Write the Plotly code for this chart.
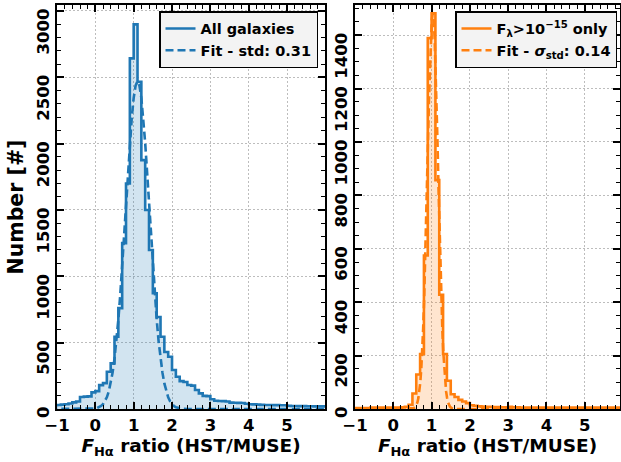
import plotly.graph_objects as go

# ---------------- data ----------------
BIN_W = 0.1
bin_left = [round(-1.2 + 0.1 * i, 1) for i in range(74)]

all_counts = [
    28, 28, 30, 33, 36, 42, 50, 56, 90, 93, 95, 125,          # -1.2 .. -0.1
    135, 180, 195, 281, 344, 545, 760, 1250, 1700, 2643,      # 0.0 .. 0.9
    2899, 2466, 1876, 1500, 1198, 872, 693, 545, 430, 394,    # 1.0 .. 1.9
    294, 243, 210, 203, 181, 176, 143, 118, 99, 97,           # 2.0 .. 2.9
    73, 62, 60, 59, 57, 48, 47, 46, 45, 40,                   # 3.0 .. 3.9
    36, 35, 33, 31, 30, 30, 29, 29, 28, 28,                   # 4.0 .. 4.9
    24, 23, 23, 22, 22, 21, 21, 20, 20, 20,                   # 5.0 .. 5.9
    19, 19,                                                   # 6.0 .. 6.1
]

bright_counts = [
    4, 4, 4, 4, 4, 4, 5, 5, 5, 5, 5, 5,                       # -1.2 .. -0.1
    5, 5, 6, 8, 16, 58, 129, 206, 575, 1389,                  # 0.0 .. 0.9
    1482, 857, 428, 206, 106, 55, 45, 34, 28, 22,             # 1.0 .. 1.9
    14, 12, 10, 9, 8, 8, 7, 7, 6, 6,                          # 2.0 .. 2.9
    8, 6, 6, 5, 5, 5, 5, 5, 5, 5,                             # 3.0 .. 3.9
    5, 5, 5, 5, 5, 5, 5, 5, 5, 5,                             # 4.0 .. 4.9
    5, 5, 5, 5, 5, 5, 5, 5, 5, 5,                             # 5.0 .. 5.9
    5, 5,                                                     # 6.0 .. 6.1
]

fit_all_x = [-1.2, -0.2, -0.15, -0.1, -0.05, 0.0, 0.05, 0.1, 0.15, 0.2, 0.25, 0.3,
             0.35, 0.4, 0.45, 0.5, 0.55, 0.6, 0.65, 0.7, 0.75, 0.8, 0.85, 0.9,
             0.95, 1.0, 1.05, 1.1, 1.15, 1.2, 1.25, 1.3, 1.35, 1.4, 1.45, 1.5,
             1.55, 1.6, 1.65, 1.7, 1.75, 1.8, 1.85, 1.9, 1.95, 2.0, 2.05, 2.1,
             2.15, 2.2, 2.25, 2.3, 2.35, 2.4, 6.2]
fit_all_y = [0, 0.4, 0.8, 1.4, 2.5, 4.5, 8, 13.6, 22.6, 36.6, 57.6, 88,
             132, 193, 274, 380, 512, 673, 861, 1074, 1306, 1546, 1784, 2006,
             2197, 2345, 2438, 2470, 2438, 2345, 2197, 2006, 1784, 1546, 1306, 1074,
             861, 673, 512, 380, 274, 193, 132, 88, 57.6, 36.6, 22.6, 13.6,
             8, 4.5, 2.5, 1.4, 0.8, 0.4, 0]

fit_bright_x = [-1.2, 0.43, 0.48, 0.53, 0.58, 0.63, 0.655, 0.68, 0.705, 0.73, 0.755,
                0.78, 0.805, 0.83, 0.855, 0.88, 0.905, 0.93, 0.955, 0.98, 1.005,
                1.03, 1.055, 1.08, 1.105, 1.13, 1.155, 1.18, 1.205, 1.23, 1.255,
                1.28, 1.305, 1.33, 1.355, 1.38, 1.405, 1.43, 1.48, 1.53, 1.58,
                1.63, 6.2]
fit_bright_y = [0, 0.15, 0.7, 2.5, 8.4, 25, 41, 65, 100, 149, 215,
                301, 407, 533, 678, 834, 994, 1147, 1282, 1389, 1457,
                1480, 1457, 1389, 1282, 1147, 994, 834, 678, 533, 407,
                301, 215, 149, 100, 65, 41, 25, 8.4, 2.5, 0.7,
                0.15, 0]

left_yticks = [0, 500, 1000, 1500, 2000, 2500, 3000]
right_yticks = [0, 200, 400, 600, 800, 1000, 1200, 1400]
xticks = [-1, 0, 1, 2, 3, 4, 5]

BLUE = "#1f77b4"
ORANGE = "#ff7f0e"
BLUE_FILL = "rgba(31,119,180,0.2)"
ORANGE_FILL = "rgba(255,127,14,0.2)"

# ---------------- helpers ----------------
def step_xy(counts):
    xs = bin_left + [round(bin_left[-1] + BIN_W, 1)]
    ys = counts + [counts[-1]]
    return xs, ys

def pad_label(v):
    # all rotated labels padded (invisibly, in front) to 4 digits so that,
    # with a uniform shift, each visible number ends at its tick
    s = str(v)
    pad = "0" * (4 - len(s))
    if pad:
        return "<span style='color:rgba(0,0,0,0)'>" + pad + "</span>" + s
    return s

fig = go.Figure()

panels = [
    ("x", "y", all_counts, fit_all_x, fit_all_y, BLUE, BLUE_FILL,
     "All galaxies", "Fit - std: 0.31", "legend"),
    ("x2", "y2", bright_counts, fit_bright_x, fit_bright_y, ORANGE, ORANGE_FILL,
     "F<sub>λ</sub>>10<sup>−15</sup> only", "Fit - <i>σ</i><sub>std</sub>: 0.14", "legend2"),
]

for xa, ya, counts, fx, fy, col, fcol, lab, flab, leg in panels:
    sx, sy = step_xy(counts)
    fig.add_trace(go.Scatter(x=sx, y=sy, mode="lines", line=dict(shape="hv", width=0, color=fcol),
                             fill="tozeroy", fillcolor=fcol, showlegend=False,
                             xaxis=xa, yaxis=ya, hoverinfo="skip"))
    fig.add_trace(go.Scatter(x=sx, y=sy, mode="lines", line=dict(shape="hv", width=2.6, color=col),
                             name=lab, legend=leg, xaxis=xa, yaxis=ya))
    fig.add_trace(go.Scatter(x=fx, y=fy, mode="lines", line=dict(width=2.6, color=col, dash="8px,4px"),
                             name=flab, legend=leg, xaxis=xa, yaxis=ya))

TICKFONT = dict(family="DejaVu Sans", size=16.5, color="black", weight="bold")

def axis_common():
    return dict(showline=True, linecolor="black", linewidth=1.5, mirror="allticks",
                ticks="inside", ticklen=7, tickwidth=1.5, tickcolor="black",
                showgrid=True, gridcolor="#bdbdbd", griddash="1.5px,2.5px", gridwidth=1,
                zeroline=False, tickfont=TICKFONT, ticklabeloverflow="allow",
                automargin=False)

W, H = 621, 462
ML, MR, MT, MB = 57, 1, 5, 53
PW = W - ML - MR
LABEL_SHIFT = 23

xtitle = dict(text="<i>F</i><sub>Hα</sub> ratio (HST/MUSE)",
              font=dict(family="DejaVu Sans", size=18.5, color="black", weight="bold"),
              standoff=6)

xa1 = axis_common()
xa1.update(domain=[0, 268 / PW], range=[-1, 5.99], tickmode="array", tickvals=xticks,
           ticktext=[("\u2212" + str(-v)) if v < 0 else str(v) for v in xticks],
           minor=dict(ticks="inside", ticklen=4, tickwidth=1, tickcolor="black",
                      dtick=0.2, tick0=0, showgrid=False),
           title=xtitle, anchor="y")
xa2 = axis_common()
xa2.update(domain=[298 / PW, 1.0], range=[-1, 5.92], tickmode="array", tickvals=xticks,
           ticktext=[("\u2212" + str(-v)) if v < 0 else str(v) for v in xticks],
           minor=dict(ticks="inside", ticklen=4, tickwidth=1, tickcolor="black",
                      dtick=0.2, tick0=0, showgrid=False),
           title=xtitle, anchor="y2")

ya1 = axis_common()
ya1.update(domain=[0, 1], range=[0, 3045], tickmode="array", tickvals=left_yticks,
           ticktext=[pad_label(v) for v in left_yticks], tickangle=-90,
           ticklabelshift=LABEL_SHIFT,
           minor=dict(ticks="inside", ticklen=4, tickwidth=1, tickcolor="black",
                      dtick=100, tick0=0, showgrid=False),
           title=dict(text="Number [#]", font=dict(family="DejaVu Sans", size=20.5,
                                                   color="black", weight="bold"), standoff=4),
           anchor="x")
ya2 = axis_common()
ya2.update(domain=[0, 1], range=[0, 1513], tickmode="array", tickvals=right_yticks,
           ticktext=[pad_label(v) for v in right_yticks], tickangle=-90,
           ticklabelshift=LABEL_SHIFT,
           minor=dict(ticks="inside", ticklen=4, tickwidth=1, tickcolor="black",
                      dtick=50, tick0=0, showgrid=False),
           anchor="x2")

LEGFONT = dict(family="DejaVu Sans", size=14.5, color="black", weight="bold")
fig.update_layout(
    width=W, height=H,
    margin=dict(l=ML, r=MR, t=MT, b=MB, autoexpand=False),
    paper_bgcolor="white", plot_bgcolor="white",
    xaxis=xa1, yaxis=ya1, xaxis2=xa2, yaxis2=ya2,
    legend=dict(x=(318 - ML) / PW, y=(409 - 11) / 404, xanchor="right", yanchor="top",
                bgcolor="#f3f3f3", bordercolor="black", borderwidth=1.5, font=LEGFONT,
                tracegroupgap=0),
    legend2=dict(x=(617 - ML) / PW, y=(409 - 11) / 404, xanchor="right", yanchor="top",
                 bgcolor="#f3f3f3", bordercolor="black", borderwidth=1.5, font=LEGFONT,
                 tracegroupgap=0),
    showlegend=True,
)

fig.write_html("out.html")
